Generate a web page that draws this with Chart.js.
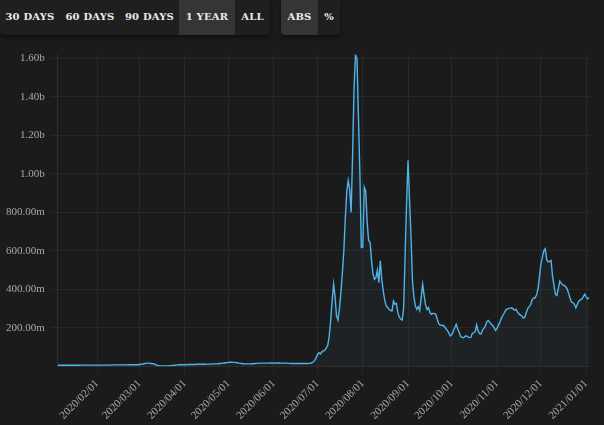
<!DOCTYPE html>
<html>
<head>
<meta charset="utf-8">
<script src="https://cdn.jsdelivr.net/npm/chart.js@4/dist/chart.umd.min.js"></script>
<style>
  html, body { margin: 0; padding: 0; background: #1b1b1b; width: 604px; height: 425px; overflow: hidden; }
  .bar { position: absolute; top: 0; height: 35px; display: flex; background: #1f1f1f;
         border-radius: 0 0 4px 4px; box-shadow: 0 2px 4px rgba(0,0,0,0.5); overflow: hidden; }
  .bar span { display: block; height: 35px; text-align: center; color: #ececec;
              font: bold 10px 'DejaVu Serif', serif; line-height: 33px; letter-spacing: 0.2px; }
  .bar span.on { background: #353535; }
  #wrap { position: absolute; left: 0; top: 42px; width: 604px; height: 383px; }
</style>
</head>
<body>
<div class="bar" style="left:0">
  <span style="width:60px">30 DAYS</span><span style="width:60px">60 DAYS</span><span style="width:59px">90 DAYS</span><span class="on" style="width:56px">1 YEAR</span><span style="width:35px">ALL</span>
</div>
<div class="bar" style="left:281px">
  <span class="on" style="width:37px">ABS</span><span style="width:22px">%</span>
</div>
<div id="wrap"><canvas id="volume-chart"></canvas></div>
<script>
// first day shown, one value per day after it (values in millions)
const startDate = [2020, 0, 5];

const jan2020 = [5,5,5,5,5,5,5,5,5,5, 5,5,5,5,5,5,6,6,6,6, 6,6,6,6,6,6,6];
const feb2020 = [6,6,6,6,6,6,6,6,6,6, 7,7,7,7,7,7,7,7,7,7, 7,8,8,8,8,8,8,8,8];
const mar2020 = [9,10,11, 13,15,16,16,15,14,13,12, 8, 4,3,2,2,2,2,2,2,2,3,3,4,5, 6,7,8,8,8,8];
const apr2020 = [8,8,9,9,9,9,9,9,10,10, 10,10,10,10,10,11,11,11,11,12, 12,12,12,13,14,15,16,17,18,19];
const may2020 = [20,21,21,20,20,19,18, 16,15,14,13, 12,12,12,12,12,13,13, 14,15,15,16,16,16,16,16,16,16,16,17,17];
const jun2020 = [16,16,17,17,17,16,16,16,16,16,15, 15,14,14,14,14,14,14,14,14,14,14,14,14,15,15, 18,22,30,45];
const jul2020 = [61,70,64,75,80,83,95,110,157,240, 340,426,360,260,240,300,383,487,600,767,
                 905,966,920,800,1100,1450,1618,1600,1300,1000, 617];
const aug2020 = [620,931,910,748,652,644,548,480,452,460, 500,435,548,450,392,345,315,305,296,290,
                 287,339,322,327,280,255,245,240,304,580, 850];
const sep2020 = [1070,870,680,450,360,315,296,310,290,357, 426,370,320,295,305,280,270,275,275,270,
                 244,221,214,213,212,206,195,185,172,158];
const oct2020 = [165,183,200,218,195,178,155,150,148,155, 158,152,149,150,170,174,180,215,185,170,
                 168,188,198,210,232,238,228,220,212,200, 186];
const nov2020 = [198,215,230,250,265,278,292,298,301,302, 304,298,292,296,282,272,266,261,250,255,
                 278,300,310,320,345,355,355,370,400,461];
const dec2020 = [530,565,600,610,555,542,545,550,470,420, 374,368,405,442,432,423,420,414,402,380,
                 355,334,330,322,303,322,338,346,348,360, 375];
const jan2021 = [362,350,357];

const yTicks = [200, 400, 600, 800, 1000, 1200, 1400, 1600];

const volume = [].concat(jan2020, feb2020, mar2020, apr2020, may2020, jun2020,
    jul2020, aug2020, sep2020, oct2020, nov2020, dec2020, jan2021);

const pad = n => String(n).padStart(2, '0');
const labels = volume.map((v, i) => {
    const d = new Date(startDate[0], startDate[1], startDate[2] + i);
    return d.getFullYear() + '/' + pad(d.getMonth() + 1) + '/' + pad(d.getDate());
});

const formatVolume = v => v >= 1000 ? (v / 1000).toFixed(2) + 'b' : v.toFixed(2) + 'm';

const tickFont = { family: "'Liberation Serif', serif", size: 11 };
const gridColor = '#282828';

new Chart(document.getElementById('volume-chart'), {
    type: 'line',
    data: {
        labels: labels,
        datasets: [{
            data: volume,
            borderColor: '#4db6ea',
            borderWidth: 1.4,
            backgroundColor: 'rgba(90, 170, 220, 0.05)',
            fill: 'origin',
            pointRadius: 0,
            tension: 0
        }]
    },
    options: {
        responsive: true,
        maintainAspectRatio: false,
        animation: false,
        layout: { padding: { left: 0, right: 15, top: 0, bottom: 0 } },
        plugins: { legend: { display: false }, tooltip: { enabled: false } },
        scales: {
            x: {
                grid: { color: gridColor, tickLength: 8 },
                border: { color: '#2e2e2e' },
                ticks: {
                    autoSkip: false,
                    minRotation: 45,
                    maxRotation: 45,
                    color: '#a9a9a9',
                    font: tickFont,
                    callback: function (value) {
                        const label = this.getLabelForValue(value);
                        return label.endsWith('/01') ? label : null;
                    }
                }
            },
            y: {
                min: 0,
                max: 1620,
                afterBuildTicks: scale => {
                    scale.ticks = yTicks.map(v => ({ value: v }));
                },
                grid: { color: gridColor, tickLength: 7 },
                border: { color: '#2e2e2e' },
                ticks: {
                    padding: 6,
                    color: '#a9a9a9',
                    font: tickFont,
                    callback: v => formatVolume(v)
                }
            }
        }
    }
});
</script>
</body>
</html>
